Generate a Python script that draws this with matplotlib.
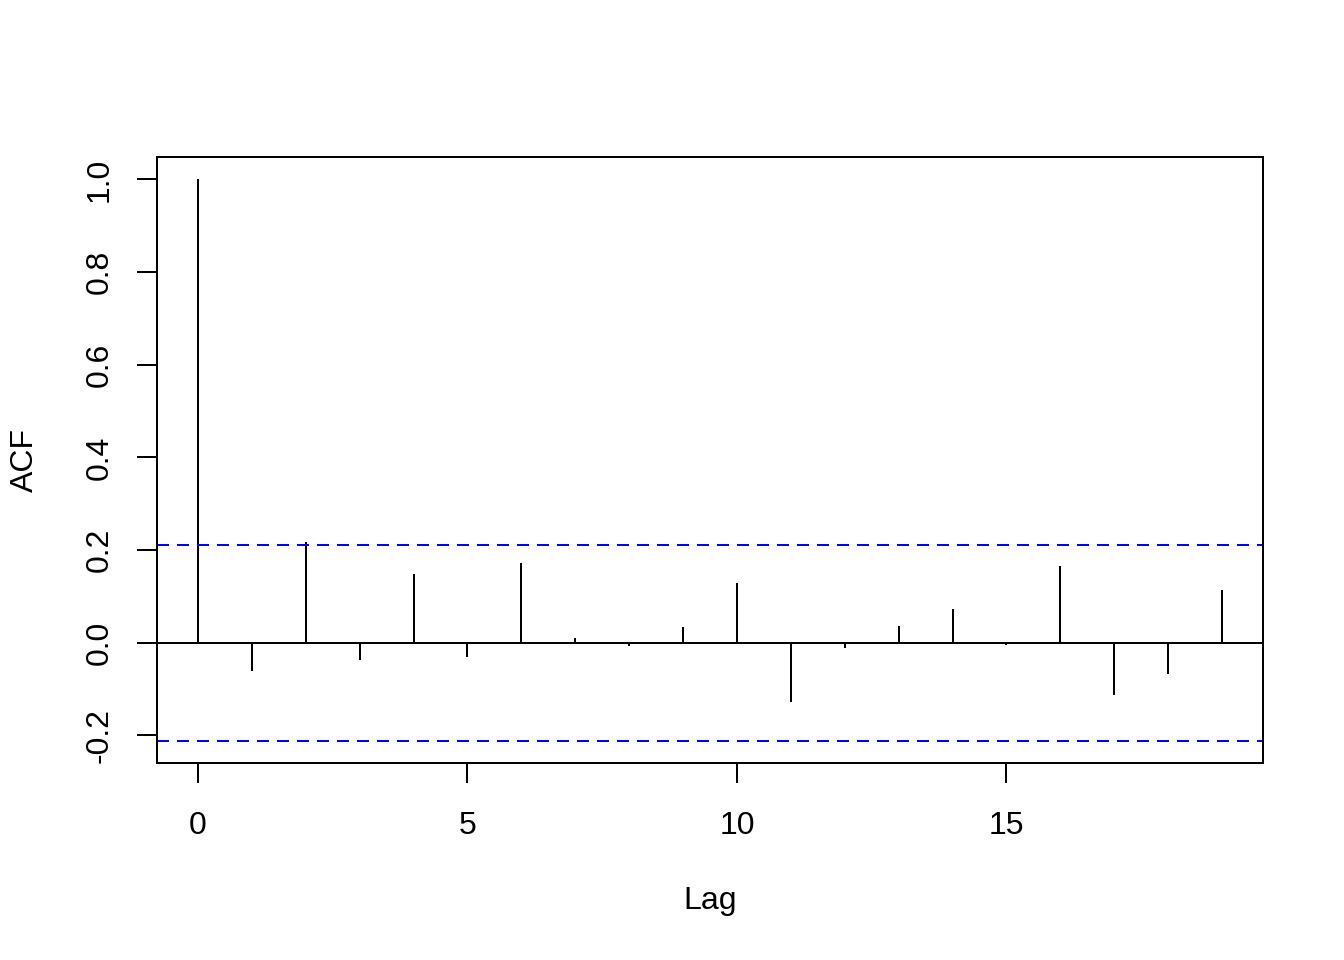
import matplotlib
matplotlib.use('Agg')
import matplotlib.pyplot as plt

# ACF values
lags = [0, 1, 2, 3, 4, 5, 6, 7, 8, 9, 10, 11, 12, 13, 14, 15, 16, 17, 18, 19]
acf_values = [1.0, -0.062, 0.217, -0.037, 0.149, -0.031, 0.173, 0.010, -0.007, 0.034,
              0.128, -0.128, -0.011, 0.035, 0.072, -0.006, 0.165, -0.114, -0.068, 0.113]
ci_bound = 0.2113
x_ticks = [0, 5, 10, 15]
y_ticks = [-0.2, 0.0, 0.2, 0.4, 0.6, 0.8, 1.0]

plt.rcParams['font.family'] = ['Liberation Sans', 'DejaVu Sans']

fig = plt.figure(figsize=(7, 5), dpi=192)
left, right = 157 / 1344, 1263 / 1344
bottom, top = 1 - 763 / 960, 1 - 157 / 960
ax = fig.add_axes([left, bottom, right - left, top - bottom])

ax.vlines(lags, 0, acf_values, color='black', linewidth=0.75)
ax.axhline(0, color='black', linewidth=0.75)
for b in (ci_bound, -ci_bound):
    ax.axhline(b, color='#0000FF', linewidth=0.75, linestyle=(0, (6, 4)))

ax.set_xlim(-0.76, 19.76)
ax.set_ylim(-0.2598, 1.0485)

ax.set_xticks(x_ticks)
ax.set_yticks(y_ticks)
ax.set_yticklabels([f'{v:.1f}' for v in y_ticks], rotation=90, va='center')
ax.tick_params(axis='both', direction='out', length=7.5, width=0.75,
               labelsize=12, color='black')
ax.tick_params(axis='x', pad=10.5)
ax.tick_params(axis='y', pad=8.5)

for side in ['left', 'bottom', 'top', 'right']:
    ax.spines[side].set_linewidth(0.75)

fig.text((left + right) / 2, 1 - 901 / 960, 'Lag', ha='center', va='center', fontsize=12)
fig.text(25 / 1344, (bottom + top) / 2, 'ACF', ha='center', va='center',
         rotation=90, fontsize=12)

fig.savefig('out.png', dpi=192)
